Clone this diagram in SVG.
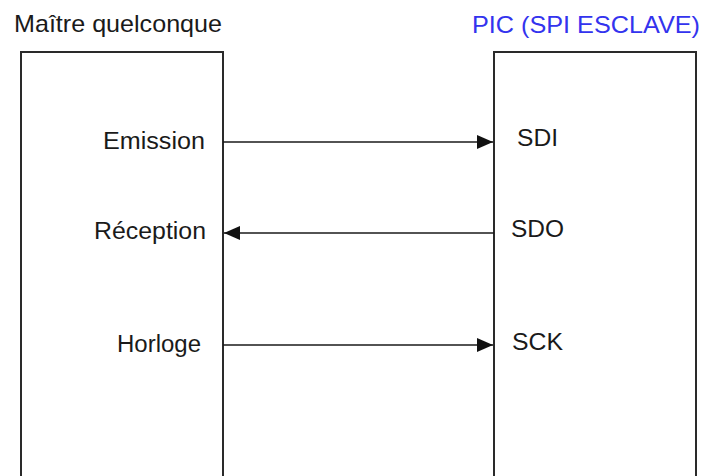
<svg xmlns="http://www.w3.org/2000/svg" width="703" height="476" viewBox="0 0 703 476">
<style>
.box{fill:#fff;stroke:#2a2a2a;stroke-width:2}
.t{font-family:"Liberation Sans",Arial,sans-serif;font-size:23px;fill:#1a1a1a}
.title{font-size:24px}
.blue{fill:#3333ee}
.conn{stroke:#1a1a1a;stroke-width:1.3;fill:none}
</style>
<defs>
<marker id="ah" viewBox="0 0 16 14" refX="16" refY="7" markerWidth="16" markerHeight="14" markerUnits="userSpaceOnUse" orient="auto">
<path d="M0,0 L16,7 L0,14 Z" fill="#111"/>
</marker>
</defs>
<g id="maitre">
<rect class="box" x="21" y="52" width="202" height="440"/>
<text class="t title" x="14" y="32" textLength="208" lengthAdjust="spacingAndGlyphs">Maître quelconque</text>
<text class="t" x="103" y="149" textLength="102" lengthAdjust="spacingAndGlyphs">Emission</text>
<text class="t" x="94" y="239" textLength="112" lengthAdjust="spacingAndGlyphs">Réception</text>
<text class="t" x="117" y="352" textLength="84" lengthAdjust="spacingAndGlyphs">Horloge</text>
</g>
<g id="pic">
<rect class="box" x="494" y="52" width="202" height="440"/>
<text class="t title blue" x="472" y="33" textLength="228" lengthAdjust="spacingAndGlyphs">PIC (SPI ESCLAVE)</text>
<text class="t" x="517" y="146" textLength="41" lengthAdjust="spacingAndGlyphs">SDI</text>
<text class="t" x="511" y="237" textLength="53" lengthAdjust="spacingAndGlyphs">SDO</text>
<text class="t" x="512" y="350" textLength="51" lengthAdjust="spacingAndGlyphs">SCK</text>
</g>
<g id="connectors">
<line class="conn" x1="223" y1="142" x2="493" y2="142" marker-end="url(#ah)"/>
<line class="conn" x1="494" y1="233" x2="224" y2="233" marker-end="url(#ah)"/>
<line class="conn" x1="223" y1="345" x2="493" y2="345" marker-end="url(#ah)"/>
</g>
</svg>
